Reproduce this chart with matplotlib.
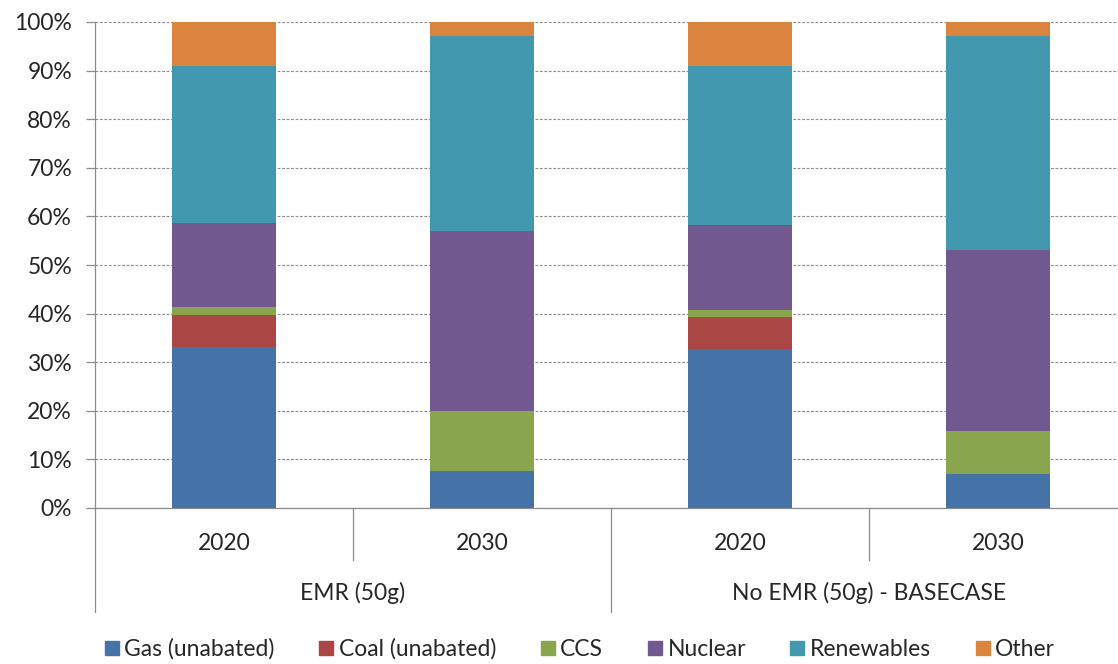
import matplotlib
matplotlib.use("Agg")
import matplotlib.pyplot as plt
from matplotlib.lines import Line2D
from matplotlib.ticker import FuncFormatter
import matplotlib.transforms as mtransforms
import numpy as np

plt.rcParams['font.family'] = ['Lato', 'DejaVu Sans']

years = ["2020", "2030", "2020", "2030"]
groups = ["EMR (50g)", "No EMR (50g) - BASECASE"]
series_names = ["Gas (unabated)", "Coal (unabated)", "CCS", "Nuclear", "Renewables", "Other"]
gas = [33.1, 7.6, 32.7, 7.0]
coal = [6.6, 0.0, 6.5, 0.0]
ccs = [1.6, 12.4, 1.5, 8.9]
nuclear = [17.3, 37.0, 17.5, 37.2]
renewables = [32.4, 40.1, 32.8, 44.0]
other = [9.0, 2.9, 9.0, 2.9]
colors = ["#4572A7", "#AA4643", "#89A54E", "#71588F", "#4198AF", "#DB843D"]

W, H = 1118, 664
fig = plt.figure(figsize=(W / 100, H / 100), dpi=100)
ax = fig.add_axes([95 / W, (H - 508) / H, 1032 / W, 486 / H])

x = np.arange(len(years))
bottom = np.zeros(len(years))
for vals, c in zip([gas, coal, ccs, nuclear, renewables, other], colors):
    v = np.array(vals) / 100.0
    ax.bar(x, v, width=0.4, bottom=bottom, color=c, zorder=3, linewidth=0)
    bottom += v

ax.set_xlim(-0.5, 3.5)
ax.set_ylim(0, 1)
ax.set_yticks(np.arange(0, 1.01, 0.1))
ax.yaxis.set_major_formatter(FuncFormatter(lambda v, p: f"{int(round(v * 100))}%"))
ax.grid(axis='y', color='#8c8c8c', linestyle=(0, (2.5, 1.5)), linewidth=0.8, zorder=0)
ax.set_axisbelow(True)
for s in ['top', 'right']:
    ax.spines[s].set_visible(False)
for s in ['left', 'bottom']:
    ax.spines[s].set_color('#8c8c8c')
    ax.spines[s].set_linewidth(0.9)
ax.tick_params(axis='y', length=6.5, width=0.9, color='#8c8c8c', pad=10,
               labelsize=16.5, labelcolor='#262626')
ax.set_xticks([])

trans = mtransforms.blended_transform_factory(ax.transData, ax.transAxes)
short = -(560 - 508) / 486
long_ = -(612 - 508) / 486
for xp in [0.5, 2.5]:
    ax.plot([xp, xp], [0, short], transform=trans, color='#8c8c8c', lw=0.9, clip_on=False)
for xp in [-0.5, 1.5, 3.5]:
    ax.plot([xp, xp], [0, long_], transform=trans, color='#8c8c8c', lw=0.9, clip_on=False)

ylab = -(543 - 508) / 486
glab = -(593 - 508) / 486
for xi, yr in zip(x, years):
    ax.text(xi, ylab, yr, transform=trans, ha='center', va='center', fontsize=16.5, color='#262626')
for gi, g in enumerate(groups):
    ax.text(gi * 2 + 0.5, glab, g, transform=trans, ha='center', va='center', fontsize=16.5, color='#262626')

handles = [Line2D([], [], marker='s', linestyle='none', markersize=9.5, color=c) for c in colors]
fig.legend(handles, series_names, loc='center', bbox_to_anchor=(580 / W, 1 - 649 / H),
           ncol=6, frameon=False, fontsize=16.5, handlelength=0.6, handletextpad=0.25,
           columnspacing=1.95, labelcolor='#262626')

fig.savefig("out.png", dpi=100)
